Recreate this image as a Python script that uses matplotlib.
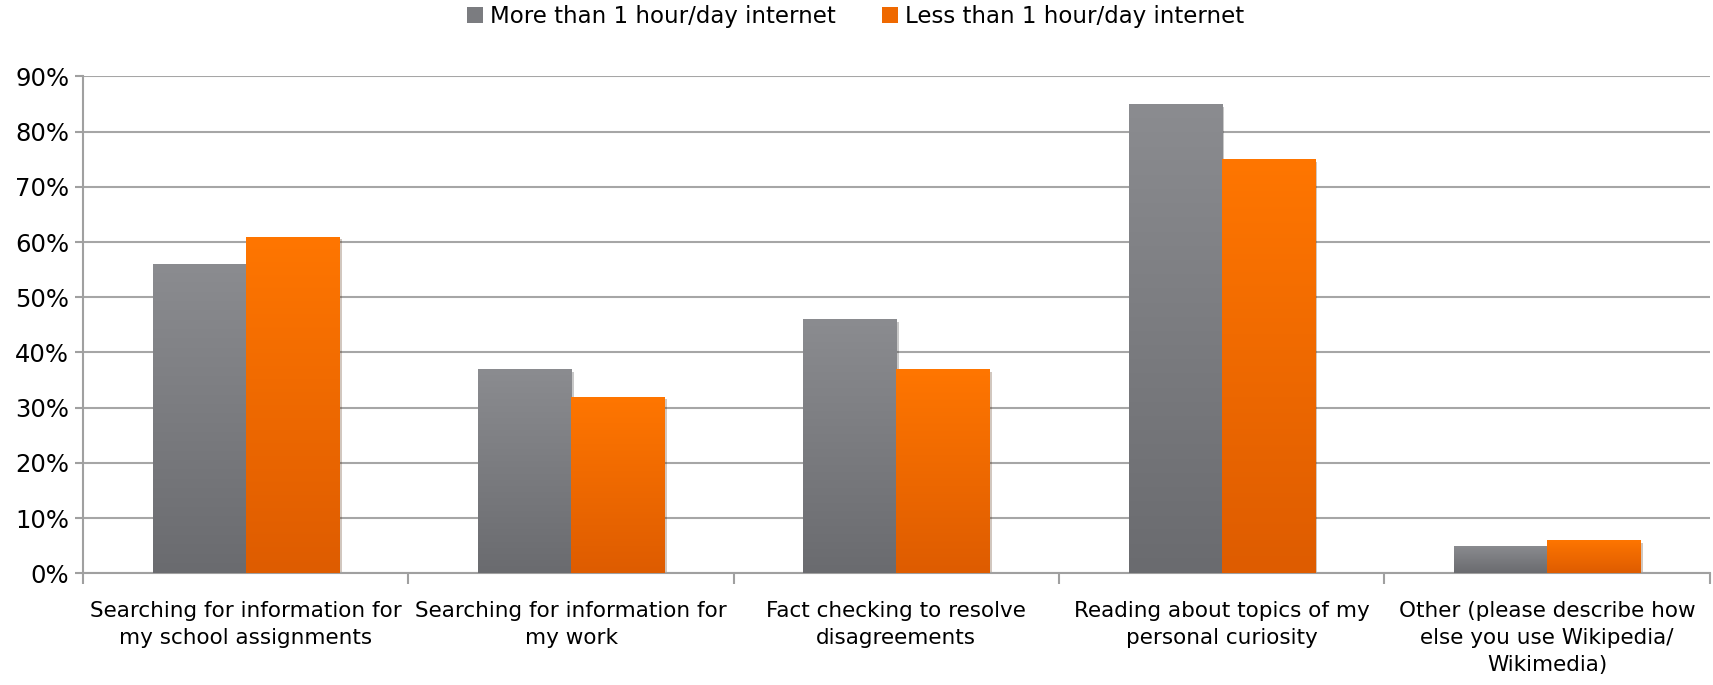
import numpy as np
import matplotlib.pyplot as plt
import matplotlib.patheffects as pe
from matplotlib.colors import LinearSegmentedColormap
from matplotlib.ticker import FuncFormatter, FixedLocator

categories = [
    "Searching for information for\nmy school assignments",
    "Searching for information for\nmy work",
    "Fact checking to resolve\ndisagreements",
    "Reading about topics of my\npersonal curiosity",
    "Other (please describe how\nelse you use Wikipedia/\nWikimedia)",
]
more_than_1h = [56, 37, 46, 85, 5]
less_than_1h = [61, 32, 37, 75, 6]
series_names = ["More than 1 hour/day internet", "Less than 1 hour/day internet"]

plt.rcParams['font.family'] = ['DejaVu Sans']

# bottom/top colours for the vertical gradient on each series
gray_cmap = LinearSegmentedColormap.from_list("g", ["#6a6b6f", "#8b8c90"])
orange_cmap = LinearSegmentedColormap.from_list("o", ["#de5c00", "#ff7600"])

fig = plt.figure(figsize=(17.13, 6.85), dpi=100)
ax = fig.add_axes([0.0485, 0.163, 0.9495, 0.7255])

x = np.arange(len(categories))
w = 0.286
grad = np.linspace(0, 1, 256).reshape(-1, 1)

def gradient_bars(xs, vals, cmap, label):
    bars = ax.bar(xs, vals, w, color=cmap(0.5), label=label, zorder=2,
                  path_effects=[pe.SimplePatchShadow(offset=(2, -2), alpha=0.25), pe.Normal()])
    for b in bars:
        x0, y0 = b.get_x(), b.get_y()
        im = ax.imshow(grad, cmap=cmap, aspect='auto', origin='lower',
                       extent=(x0, x0 + b.get_width(), y0, y0 + b.get_height()), zorder=3)
        im.set_clip_path(b)
    return bars

gradient_bars(x - w / 2, more_than_1h, gray_cmap, series_names[0])
gradient_bars(x + w / 2, less_than_1h, orange_cmap, series_names[1])

ax.set_xlim(-0.5, len(categories) - 0.5)
ax.set_ylim(0, 90)
ax.set_yticks(np.arange(0, 91, 10))
ax.yaxis.set_major_formatter(FuncFormatter(lambda v, p: f"{v:.0f}%"))
ax.grid(axis='y', color='#a6a6a6', linewidth=1.5, zorder=0)
ax.set_axisbelow(True)

ax.set_xticks(x)
ax.set_xticklabels(categories, fontsize=15.5, linespacing=1.42)
ax.tick_params(axis='x', length=0, pad=20)
ax.xaxis.set_minor_locator(FixedLocator(np.arange(-0.5, len(categories), 1)))
ax.tick_params(axis='x', which='minor', length=8, width=1.5, color='#a0a0a0')
ax.tick_params(axis='y', length=6, width=1.5, color='#a0a0a0', labelsize=17.5, pad=4)

for side in ['top', 'right']:
    ax.spines[side].set_visible(False)
for side in ['left', 'bottom']:
    ax.spines[side].set_color('#a0a0a0')
    ax.spines[side].set_linewidth(1.5)

leg = ax.legend(loc='lower center', bbox_to_anchor=(0.475, 1.055), ncol=2, frameon=False,
                fontsize=16.5, handlelength=0.7, handleheight=0.7, handletextpad=0.3,
                columnspacing=2.0)
for h in leg.legend_handles:
    h.set_path_effects([])

fig.savefig("out.png", dpi=100)
